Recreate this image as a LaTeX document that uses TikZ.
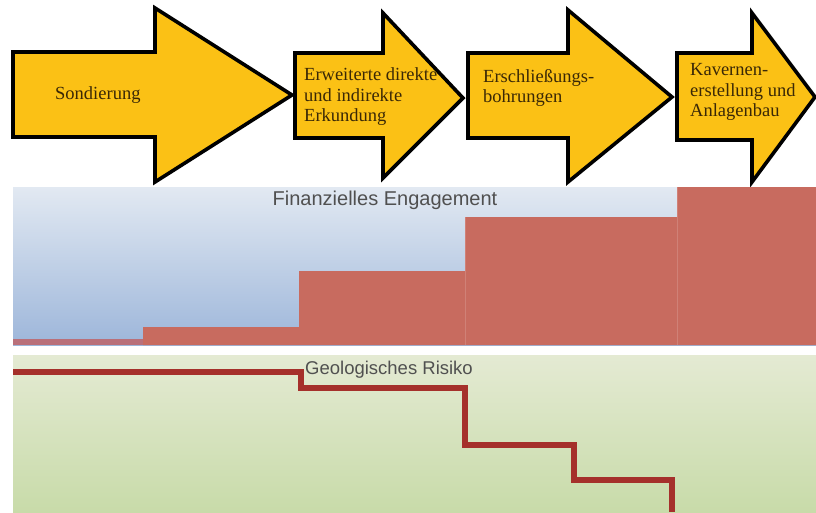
\documentclass[tikz,border=0pt]{standalone}
\usepackage{fontspec}
\setmainfont{Liberation Serif}
\setsansfont{Liberation Sans}
\definecolor{arrowfill}{HTML}{FBC115}
\definecolor{arrowtext}{HTML}{3A2806}
\definecolor{finred}{HTML}{C86B5F}
\definecolor{firststep}{HTML}{B9707A}
\definecolor{risk}{HTML}{A5302B}
\definecolor{bluetop}{HTML}{E2E9F2}
\definecolor{bluebot}{HTML}{9DB6DA}
\definecolor{greentop}{HTML}{E4EAD3}
\definecolor{greenbot}{HTML}{C8DBA9}
\definecolor{titlegray}{HTML}{505050}
\begin{document}
\begin{tikzpicture}[x=1pt,y=-1pt,
  phasearrow/.style={fill=arrowfill,draw=black,line width=3.6pt,line join=miter},
  phasetext/.style={text=arrowtext,font=\fontsize{18.5}{20.5}\selectfont,align=left,anchor=west,inner sep=0pt},
  paneltitle/.style={text=titlegray,font=\sffamily\fontsize{18.5}{20}\selectfont,inner sep=0pt},
  stepline/.style={finred!85!white,line width=1pt}]
\useasboundingbox (0,0) rectangle (816,512);
\fill[white] (0,0) rectangle (816,512);

% phase arrows
\draw[phasearrow] (13,52) -- (155,52) -- (155,8) -- (292,95) -- (155,182) -- (155,137) -- (13,137) -- cycle;
\draw[phasearrow] (295,53) -- (383,53) -- (383,13) -- (463,98) -- (383,178) -- (383,138) -- (295,138) -- cycle;
\draw[phasearrow] (468,53) -- (568,53) -- (568,10) -- (672,97) -- (568,182) -- (568,138) -- (468,138) -- cycle;
\draw[phasearrow] (677,53) -- (752,53) -- (752,13) -- (815,97) -- (752,182) -- (752,140) -- (677,140) -- cycle;

\node[phasetext] (p1) at (55,95) {Sondierung};
\node[phasetext] (p2) at (304,97) {Erweiterte direkte\\und indirekte\\Erkundung};
\node[phasetext] (p3) at (483,88) {Erschließungs-\\bohrungen};
\node[phasetext] (p4) at (690,92) {Kavernen-\\erstellung und\\Anlagenbau};

% financial engagement panel
\shade[top color=bluetop,bottom color=bluebot] (13,187) rectangle (816,345);
\fill[finred] (143,345) -- (143,327) -- (299,327) -- (299,271) -- (465,271) -- (465,217) -- (677,217) -- (677,187) -- (816,187) -- (816,345) -- cycle;
\fill[firststep] (13,339) rectangle (143,345);
\draw[stepline] (465,217) -- (465,345);
\draw[stepline] (677,187) -- (677,345);
\node[paneltitle,font=\sffamily\fontsize{20}{22}\selectfont] (fin) at (385,200) {Finanzielles Engagement};

% geological risk panel
\shade[top color=greentop,bottom color=greenbot] (13,355) rectangle (816,512);
\node[paneltitle] (geo) at (389,370) {Geologisches Risiko};
\draw[risk,line width=5.5pt,line join=miter] (13,372) -- (301,372) -- (301,388) -- (465,388) -- (465,445) -- (574,445) -- (574,480) -- (672,480) -- (672,512);
\end{tikzpicture}
\end{document}
